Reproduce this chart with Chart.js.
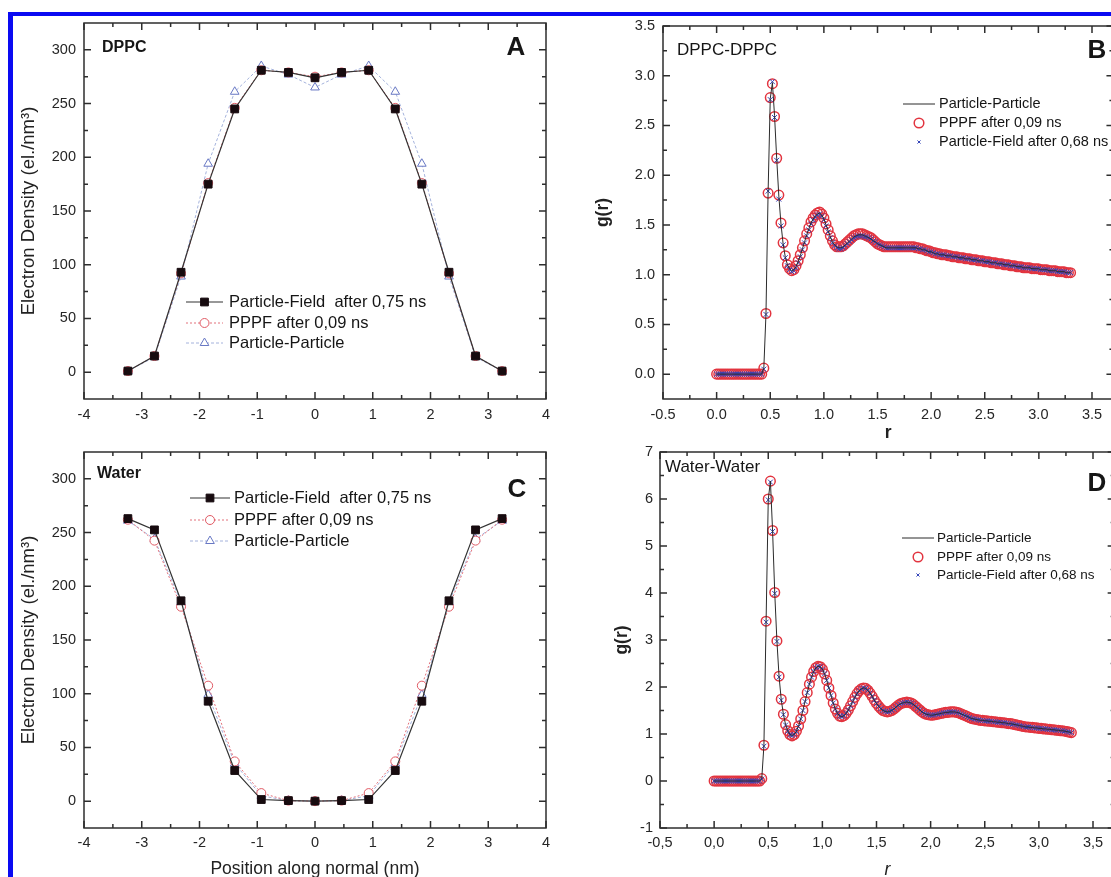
<!DOCTYPE html>
<html>
<head>
<meta charset="utf-8">
<title>Electron density profiles and radial distribution functions</title>
<script src="https://cdn.jsdelivr.net/npm/chart.js@4.4.1/dist/chart.umd.min.js"></script>
<style>
html,body{margin:0;padding:0;background:#fff;overflow:hidden;}
#wrap{position:relative;width:1111px;height:877px;overflow:hidden;background:#fff;}
canvas{position:absolute;}
.bar{position:absolute;background:#0a0af2;}
.lbl{position:absolute;font-family:"Liberation Sans",Arial,Helvetica,sans-serif;color:#161616;line-height:1;white-space:nowrap;}
.big{font-size:26px;font-weight:bold;transform:translateX(-50%);}
.tag{font-size:16px;font-weight:bold;}
.sub{font-size:17px;}
</style>
</head>
<body>
<div id="wrap">
  <div class="bar" style="left:8px;top:12px;width:1103px;height:4px"></div>
  <div class="bar" style="left:8px;top:12px;width:5px;height:865px"></div>
  <canvas id="cA" width="560" height="440" style="left:0;top:0"></canvas>
  <canvas id="cB" width="574" height="444" style="left:560px;top:0"></canvas>
  <canvas id="cC" width="560" height="460" style="left:0;top:420px"></canvas>
  <canvas id="cD" width="575" height="461" style="left:560px;top:420px"></canvas>
  <div class="lbl tag" style="left:102px;top:39px">DPPC</div>
  <div class="lbl big" style="left:516px;top:33px">A</div>
  <div class="lbl sub" style="left:677px;top:41px">DPPC-DPPC</div>
  <div class="lbl big" style="left:1097px;top:36px">B</div>
  <div class="lbl tag" style="left:97px;top:465px">Water</div>
  <div class="lbl big" style="left:517px;top:475px">C</div>
  <div class="lbl sub" style="left:665px;top:458px">Water-Water</div>
  <div class="lbl big" style="left:1097px;top:469px">D</div>
</div>
<script>
// ---------- data: electron density profiles (panels A and C) ----------
const posA = [-3.24,-2.78,-2.32,-1.85,-1.39,-0.93,-0.46,0,0.46,0.93,1.39,1.85,2.32,2.78,3.24];
const dppcPF   = [1,15,93,175,245,281,279,274,279,281,245,175,93,15,1];
const dppcPPPF = [1,15,92,176,246,281,279,275,279,281,246,176,92,15,1];
const dppcPP   = [1,14,89,194,261,285,277,265,277,285,261,194,89,14,1];
const waterPF   = [263,252.5,186.5,93,28.5,1.5,0.5,0,0.5,1.5,28.5,93,186.5,252.5,263];
const waterPPPF = [262,242.5,181,107.5,37,7.5,0.5,0,0.5,7.5,37,107.5,181,242.5,262];
const waterPP   = [261,244,185,99,35,5,0.5,0,0.5,5,35,99,185,244,261];

// ---------- data: radial distribution functions (panels B and D) ----------
const rVals = [
0.00,0.02,0.04,0.06,0.08,0.10,0.12,0.14,0.16,0.18,
0.20,0.22,0.24,0.26,0.28,0.30,0.32,0.34,0.36,0.38,
0.40,0.42,0.44,0.46,0.48,0.50,0.52,0.54,0.56,0.58,
0.60,0.62,0.64,0.66,0.68,0.70,0.72,0.74,0.76,0.78,
0.80,0.82,0.84,0.86,0.88,0.90,0.92,0.94,0.96,0.98,
1.00,1.02,1.04,1.06,1.08,1.10,1.12,1.14,1.16,1.18,
1.20,1.22,1.24,1.26,1.28,1.30,1.32,1.34,1.36,1.38,
1.40,1.42,1.44,1.46,1.48,1.50,1.52,1.54,1.56,1.58,
1.60,1.62,1.64,1.66,1.68,1.70,1.72,1.74,1.76,1.78,
1.80,1.82,1.84,1.86,1.88,1.90,1.92,1.94,1.96,1.98,
2.00,2.02,2.04,2.06,2.08,2.10,2.12,2.14,2.16,2.18,
2.20,2.22,2.24,2.26,2.28,2.30,2.32,2.34,2.36,2.38,
2.40,2.42,2.44,2.46,2.48,2.50,2.52,2.54,2.56,2.58,
2.60,2.62,2.64,2.66,2.68,2.70,2.72,2.74,2.76,2.78,
2.80,2.82,2.84,2.86,2.88,2.90,2.92,2.94,2.96,2.98,
3.00,3.02,3.04,3.06,3.08,3.10,3.12,3.14,3.16,3.18,
3.20,3.22,3.24,3.26,3.28,3.30];

const gDppcPP = [
0,0,0,0,0,0,0,0,0,0,
0,0,0,0,0,0,0,0,0,0,
0,0,0.06,0.60,1.83,2.77,2.93,2.60,2.17,1.79,
1.51,1.31,1.18,1.10,1.06,1.04,1.05,1.08,1.13,1.19,
1.26,1.33,1.40,1.46,1.52,1.56,1.59,1.61,1.62,1.60,
1.56,1.50,1.44,1.38,1.33,1.30,1.28,1.27,1.27,1.28,
1.30,1.32,1.34,1.36,1.38,1.39,1.40,1.40,1.40,1.39,
1.38,1.37,1.36,1.34,1.33,1.31,1.30,1.29,1.28,1.27,
1.27,1.27,1.27,1.27,1.27,1.27,1.27,1.27,1.27,1.27,
1.27,1.27,1.27,1.27,1.26,1.26,1.25,1.25,1.24,1.23,
1.23,1.22,1.21,1.21,1.20,1.20,1.20,1.19,1.19,1.19,
1.18,1.18,1.18,1.17,1.17,1.17,1.16,1.16,1.16,1.15,
1.15,1.15,1.14,1.14,1.14,1.13,1.13,1.13,1.12,1.12,
1.12,1.11,1.11,1.11,1.10,1.10,1.10,1.09,1.09,1.09,
1.08,1.08,1.08,1.07,1.07,1.07,1.07,1.06,1.06,1.06,
1.06,1.05,1.05,1.05,1.05,1.04,1.04,1.04,1.04,1.03,
1.03,1.03,1.03,1.02,1.02,1.02];

const gDppcPPPF = [
0,0,0,0,0,0,0,0,0,0,
0,0,0,0,0,0,0,0,0,0,
0,0,0.06,0.61,1.82,2.78,2.92,2.59,2.17,1.80,
1.52,1.32,1.19,1.10,1.06,1.04,1.05,1.09,1.14,1.20,
1.27,1.34,1.41,1.47,1.53,1.57,1.60,1.62,1.63,1.61,
1.57,1.51,1.45,1.39,1.34,1.30,1.28,1.28,1.28,1.29,
1.31,1.33,1.35,1.37,1.39,1.40,1.41,1.41,1.41,1.40,
1.39,1.38,1.37,1.35,1.33,1.31,1.30,1.29,1.28,1.28,
1.28,1.28,1.28,1.28,1.28,1.28,1.28,1.28,1.28,1.28,
1.28,1.28,1.28,1.27,1.27,1.26,1.26,1.25,1.24,1.24,
1.23,1.22,1.22,1.21,1.21,1.20,1.20,1.20,1.19,1.19,
1.18,1.18,1.18,1.17,1.17,1.17,1.16,1.16,1.16,1.15,
1.15,1.15,1.14,1.14,1.14,1.13,1.13,1.13,1.12,1.12,
1.12,1.11,1.11,1.11,1.10,1.10,1.10,1.09,1.09,1.09,
1.08,1.08,1.08,1.07,1.07,1.07,1.07,1.06,1.06,1.06,
1.06,1.05,1.05,1.05,1.05,1.04,1.04,1.04,1.04,1.03,
1.03,1.03,1.03,1.02,1.02,1.02];

const gDppcPF = [
0,0,0,0,0,0,0,0,0,0,
0,0,0,0,0,0,0,0,0,0,
0,0,0.05,0.60,1.84,2.76,2.94,2.58,2.15,1.76,
1.49,1.30,1.17,1.09,1.05,1.03,1.04,1.07,1.12,1.18,
1.25,1.32,1.39,1.45,1.51,1.55,1.58,1.60,1.61,1.59,
1.55,1.49,1.43,1.37,1.32,1.29,1.27,1.26,1.26,1.27,
1.29,1.31,1.33,1.35,1.37,1.38,1.39,1.39,1.39,1.38,
1.38,1.37,1.36,1.34,1.33,1.31,1.30,1.29,1.28,1.27,
1.27,1.27,1.27,1.27,1.27,1.27,1.27,1.27,1.27,1.27,
1.27,1.27,1.27,1.27,1.26,1.26,1.25,1.25,1.24,1.23,
1.23,1.22,1.21,1.21,1.20,1.20,1.20,1.19,1.19,1.19,
1.18,1.18,1.18,1.17,1.17,1.17,1.16,1.16,1.16,1.15,
1.15,1.15,1.14,1.14,1.14,1.13,1.13,1.13,1.12,1.12,
1.12,1.11,1.11,1.11,1.10,1.10,1.10,1.09,1.09,1.09,
1.08,1.08,1.08,1.07,1.07,1.07,1.07,1.06,1.06,1.06,
1.06,1.05,1.05,1.05,1.05,1.04,1.04,1.04,1.04,1.03,
1.03,1.03,1.03,1.02,1.02,1.02];

const gWatPP = [
0,0,0,0,0,0,0,0,0,0,
0,0,0,0,0,0,0,0,0,0,
0,0,0.05,0.75,3.39,5.99,6.38,5.32,4.00,2.98,
2.22,1.73,1.42,1.20,1.07,0.99,0.97,0.99,1.06,1.17,
1.32,1.50,1.69,1.88,2.06,2.21,2.33,2.41,2.44,2.43,
2.38,2.28,2.14,1.98,1.82,1.66,1.53,1.44,1.38,1.37,
1.39,1.44,1.51,1.60,1.69,1.78,1.86,1.92,1.96,1.98,
1.97,1.93,1.87,1.80,1.72,1.65,1.59,1.54,1.50,1.48,
1.47,1.48,1.50,1.53,1.57,1.61,1.64,1.66,1.67,1.68,
1.67,1.66,1.63,1.59,1.55,1.51,1.47,1.44,1.42,1.41,
1.40,1.40,1.41,1.42,1.43,1.44,1.45,1.46,1.46,1.47,
1.47,1.47,1.46,1.45,1.43,1.41,1.39,1.37,1.35,1.33,
1.32,1.31,1.30,1.29,1.29,1.28,1.28,1.27,1.27,1.26,
1.26,1.25,1.25,1.24,1.24,1.23,1.22,1.22,1.21,1.20,
1.19,1.18,1.17,1.16,1.15,1.15,1.14,1.14,1.13,1.13,
1.12,1.12,1.11,1.11,1.10,1.10,1.09,1.09,1.08,1.08,
1.07,1.07,1.06,1.05,1.04,1.03];

const gWatPPPF = [
0,0,0,0,0,0,0,0,0,0,
0,0,0,0,0,0,0,0,0,0,
0,0,0.05,0.76,3.40,6.00,6.38,5.33,4.01,2.98,
2.23,1.74,1.42,1.20,1.07,0.99,0.96,0.99,1.06,1.17,
1.32,1.50,1.69,1.88,2.06,2.21,2.33,2.41,2.44,2.43,
2.38,2.28,2.14,1.98,1.82,1.66,1.53,1.44,1.38,1.37,
1.39,1.44,1.51,1.60,1.69,1.78,1.86,1.92,1.96,1.98,
1.97,1.93,1.87,1.80,1.72,1.65,1.59,1.54,1.50,1.48,
1.47,1.48,1.50,1.53,1.57,1.61,1.64,1.66,1.67,1.68,
1.67,1.66,1.63,1.59,1.55,1.51,1.47,1.44,1.42,1.41,
1.40,1.40,1.41,1.42,1.43,1.44,1.45,1.46,1.46,1.47,
1.47,1.47,1.46,1.45,1.43,1.41,1.39,1.37,1.35,1.33,
1.32,1.31,1.30,1.29,1.29,1.28,1.28,1.27,1.27,1.26,
1.26,1.25,1.25,1.24,1.24,1.23,1.22,1.22,1.21,1.20,
1.19,1.18,1.17,1.16,1.15,1.15,1.14,1.14,1.13,1.13,
1.12,1.12,1.11,1.11,1.10,1.10,1.09,1.09,1.08,1.08,
1.07,1.07,1.06,1.05,1.04,1.03];

const gWatPF = [
0,0,0,0,0,0,0,0,0,0,
0,0,0,0,0,0,0,0,0,0,
0,0,0.04,0.74,3.38,5.98,6.36,5.31,3.99,2.97,
2.21,1.72,1.41,1.19,1.06,0.98,0.97,0.99,1.05,1.16,
1.32,1.50,1.69,1.88,2.06,2.21,2.33,2.41,2.44,2.43,
2.38,2.28,2.14,1.98,1.82,1.66,1.53,1.44,1.38,1.37,
1.39,1.44,1.51,1.60,1.69,1.78,1.86,1.92,1.96,1.98,
1.97,1.93,1.87,1.80,1.72,1.65,1.59,1.54,1.50,1.48,
1.47,1.48,1.50,1.53,1.57,1.61,1.64,1.66,1.67,1.68,
1.67,1.66,1.63,1.59,1.55,1.51,1.47,1.44,1.42,1.41,
1.40,1.40,1.41,1.42,1.43,1.44,1.45,1.46,1.46,1.47,
1.47,1.47,1.46,1.45,1.43,1.41,1.39,1.37,1.35,1.33,
1.32,1.31,1.30,1.29,1.29,1.28,1.28,1.27,1.27,1.26,
1.26,1.25,1.25,1.24,1.24,1.23,1.22,1.22,1.21,1.20,
1.19,1.18,1.17,1.16,1.15,1.15,1.14,1.14,1.13,1.13,
1.12,1.12,1.11,1.11,1.10,1.10,1.09,1.09,1.08,1.08,
1.07,1.07,1.06,1.05,1.04,1.03];

// ---------- tick values ----------
const edXTicks = [-4,-3,-2,-1,0,1,2,3,4];
const edYTicks = [0,50,100,150,200,250,300];
const edXMinor = [-3.5,-2.5,-1.5,-0.5,0.5,1.5,2.5,3.5];
const edYMinor = [25,75,125,175,225,275];
const gXTicks = [-0.5,0,0.5,1,1.5,2,2.5,3,3.5];
const gXMinor = [-0.25,0.25,0.75,1.25,1.75,2.25,2.75,3.25];
const gDppcYTicks = [0,0.5,1,1.5,2,2.5,3,3.5];
const gDppcYMinor = [0.25,0.75,1.25,1.75,2.25,2.75,3.25];
const gWatYTicks = [-1,0,1,2,3,4,5,6,7];
const gWatYMinor = [-0.5,0.5,1.5,2.5,3.5,4.5,5.5,6.5];

// ---------- helpers ----------
const FONT = '"Liberation Sans", Arial, Helvetica, sans-serif';
const TICKFONT = {family: FONT, size: 14.5};
const TICKCOL = '#262626';
function pts(xs, ys) { return xs.map((x, i) => ({x: x, y: ys[i]})); }

function drawMarker(ctx, style, x, y, r, fill, stroke, lw) {
  ctx.beginPath();
  if (style === 'rect') { const s = r * Math.SQRT1_2; ctx.rect(x - s, y - s, 2 * s, 2 * s); }
  else if (style === 'circle') { ctx.arc(x, y, r, 0, Math.PI * 2); }
  else if (style === 'triangle') { ctx.moveTo(x, y - r); ctx.lineTo(x + r * 0.866, y + r * 0.5); ctx.lineTo(x - r * 0.866, y + r * 0.5); ctx.closePath(); }
  else if (style === 'crossRot') { const s = r * Math.SQRT1_2; ctx.moveTo(x - s, y - s); ctx.lineTo(x + s, y + s); ctx.moveTo(x + s, y - s); ctx.lineTo(x - s, y + s); }
  if (style !== 'crossRot' && fill) { ctx.fillStyle = fill; ctx.fill(); }
  ctx.setLineDash([]);
  ctx.strokeStyle = stroke; ctx.lineWidth = lw; ctx.stroke();
}

function framePlugin(p) {
  return {
    id: 'frameTicks',
    afterDraw(chart) {
      const ctx = chart.ctx, a = chart.chartArea, sx = chart.scales.x, sy = chart.scales.y;
      ctx.save();
      ctx.strokeStyle = '#2e2e2e'; ctx.lineWidth = 1.5; ctx.setLineDash([]);
      ctx.beginPath();
      const vx = (vals, len) => vals.forEach(v => {
        const px = sx.getPixelForValue(v);
        if (px < a.left - 1 || px > a.right + 1) return;
        ctx.moveTo(px, a.bottom); ctx.lineTo(px, a.bottom - len);
        ctx.moveTo(px, a.top); ctx.lineTo(px, a.top + len);
      });
      const vy = (vals, len) => vals.forEach(v => {
        const py = sy.getPixelForValue(v);
        if (py < a.top - 1 || py > a.bottom + 1) return;
        ctx.moveTo(a.left, py); ctx.lineTo(a.left + len, py);
        ctx.moveTo(a.right, py); ctx.lineTo(a.right - len, py);
      });
      vx(p.xTicks, 7); vx(p.xMinor, 4); vy(p.yTicks, 7); vy(p.yMinor, 4);
      ctx.stroke();
      ctx.strokeRect(a.left, a.top, a.right - a.left, a.bottom - a.top);
      ctx.restore();
    }
  };
}

function legendPlugin(L) {
  return {
    id: 'inLegend',
    afterDraw(chart) {
      const ctx = chart.ctx, ds = chart.data.datasets;
      ctx.save();
      L.items.forEach((idx, k) => {
        const d = ds[idx], y = L.rows[k], xm = (L.x0 + L.x1) / 2;
        if (d.showLine) {
          ctx.beginPath();
          ctx.setLineDash(d.borderDash || []);
          ctx.strokeStyle = d.borderColor; ctx.lineWidth = d.borderWidth;
          ctx.moveTo(L.x0, y); ctx.lineTo(L.x1, y); ctx.stroke();
          ctx.setLineDash([]);
        }
        if (d.pointRadius > 0) {
          const r = (L.markerR && L.markerR[k]) ? L.markerR[k] : d.pointRadius;
          drawMarker(ctx, d.pointStyle, xm, y, r, d.pointBackgroundColor, d.pointBorderColor, d.pointBorderWidth);
        }
        ctx.font = L.font; ctx.fillStyle = '#151515';
        ctx.textBaseline = 'middle'; ctx.textAlign = 'left';
        ctx.fillText(d.label, L.tx, y);
      });
      ctx.restore();
    }
  };
}

function makePanel(id, p) {
  return new Chart(document.getElementById(id), {
    type: 'scatter',
    data: {datasets: p.datasets},
    options: {
      responsive: false, animation: false, devicePixelRatio: 1, events: [],
      layout: {padding: {left: 0, top: p.padTop, right: p.padRight, bottom: 0}},
      plugins: {legend: {display: false}, tooltip: {enabled: false}},
      scales: {
        x: {
          type: 'linear', position: 'bottom', min: p.xMin, max: p.xMax,
          grid: {display: false, drawTicks: false}, border: {display: false},
          ticks: {autoSkip: false, maxRotation: 0, padding: p.xPad, color: TICKCOL, font: TICKFONT, callback: p.xFmt},
          afterBuildTicks: s => { s.ticks = p.xTicks.map(v => ({value: v})); },
          afterFit: s => { s.height = p.xH; },
          title: p.xTitle || {display: false}
        },
        y: {
          type: 'linear', position: 'left', min: p.yMin, max: p.yMax,
          grid: {display: false, drawTicks: false}, border: {display: false},
          ticks: {autoSkip: false, padding: p.yPad, color: TICKCOL, font: TICKFONT, callback: p.yFmt},
          afterBuildTicks: s => { s.ticks = p.yTicks.map(v => ({value: v})); },
          afterFit: s => { s.width = p.yW; },
          title: p.yTitle
        }
      }
    },
    plugins: [framePlugin(p), legendPlugin(p.legend)]
  });
}

function edDatasets(pf, pppf, pp) {
  return [
    {label: 'Particle-Field  after 0,75 ns', data: pts(posA, pf), showLine: true, borderColor: '#333333', borderWidth: 1.2,
     pointStyle: 'rect', pointRadius: 5.5, pointBackgroundColor: '#170b0f', pointBorderColor: '#170b0f', pointBorderWidth: 1, order: 0},
    {label: 'PPPF after 0,09 ns', data: pts(posA, pppf), showLine: true, borderColor: '#e2707a', borderWidth: 1, borderDash: [2, 2],
     pointStyle: 'circle', pointRadius: 4.5, pointBackgroundColor: '#ffffff', pointBorderColor: '#e05a64', pointBorderWidth: 1, order: 1},
    {label: 'Particle-Particle', data: pts(posA, pp), showLine: true, borderColor: '#a4b2dc', borderWidth: 1, borderDash: [3, 2],
     pointStyle: 'triangle', pointRadius: 5, pointBackgroundColor: '#ffffff', pointBorderColor: '#6878c4', pointBorderWidth: 1, order: 2}
  ];
}
function gDatasets(pp, pppf, pf) {
  return [
    {label: 'Particle-Particle', data: pts(rVals, pp), showLine: true, borderColor: '#2b2b2b', borderWidth: 1, pointRadius: 0, order: 0},
    {label: 'PPPF after 0,09 ns', data: pts(rVals, pppf), showLine: false, pointStyle: 'circle', pointRadius: 4.8,
     pointBackgroundColor: 'rgba(0,0,0,0)', pointBorderColor: '#e2343f', pointBorderWidth: 1.5, order: 2},
    {label: 'Particle-Field after 0,68 ns', data: pts(rVals, pf), showLine: false, pointStyle: 'crossRot', pointRadius: 3.5,
     pointBackgroundColor: 'rgba(0,0,0,0)', pointBorderColor: '#3444b8', pointBorderWidth: 1, order: 1}
  ];
}

const yTitleED = {display: true, text: 'Electron Density (el./nm³)', color: '#222', font: {family: FONT, size: 18.5}, padding: {top: 18, bottom: 0}};
const intFmt = v => String(v);
const dotFmt = v => v.toFixed(1);
const commaFmt = v => v.toFixed(1).replace('.', ',');

// Panel A
makePanel('cA', {
  datasets: edDatasets(dppcPF, dppcPPPF, dppcPP),
  xMin: -4, xMax: 4, yMin: -25, yMax: 325,
  xTicks: edXTicks, xMinor: edXMinor, yTicks: edYTicks, yMinor: edYMinor,
  xFmt: intFmt, yFmt: intFmt, xPad: 7, yPad: 8,
  padTop: 23, padRight: 14, xH: 41, yW: 84,
  yTitle: yTitleED,
  legend: {items: [0, 1, 2], x0: 186, x1: 223, tx: 229, rows: [302, 323, 343], font: '16.5px ' + FONT}
});

// Panel B
makePanel('cB', {
  datasets: gDatasets(gDppcPP, gDppcPPPF, gDppcPF),
  xMin: -0.5, xMax: 3.7, yMin: -0.25, yMax: 3.5,
  xTicks: gXTicks, xMinor: gXMinor, yTicks: gDppcYTicks, yMinor: gDppcYMinor,
  xFmt: dotFmt, yFmt: dotFmt, xPad: 7, yPad: 8,
  padTop: 26, padRight: 20.55, xH: 45, yW: 103,
  xTitle: {display: true, text: 'r', color: '#222', font: {family: FONT, size: 17.5, weight: 'bold'}, padding: {top: 0, bottom: 0}},
  yTitle: {display: true, text: 'g(r)', color: '#222', font: {family: FONT, size: 17.5, weight: 'bold'}, padding: {top: 32.5, bottom: 0}},
  legend: {items: [0, 1, 2], x0: 343, x1: 375, tx: 379, rows: [104, 123, 142], font: '14.5px ' + FONT, markerR: [0, 4.8, 2.2]}
});

// Panel C
makePanel('cC', {
  datasets: edDatasets(waterPF, waterPPPF, waterPP),
  xMin: -4, xMax: 4, yMin: -25, yMax: 325,
  xTicks: edXTicks, xMinor: edXMinor, yTicks: edYTicks, yMinor: edYMinor,
  xFmt: intFmt, yFmt: intFmt, xPad: 6, yPad: 8,
  padTop: 32, padRight: 14, xH: 52, yW: 84,
  xTitle: {display: true, text: 'Position along normal (nm)', color: '#222', font: {family: FONT, size: 17.5}, padding: {top: 0, bottom: 0}},
  yTitle: yTitleED,
  legend: {items: [0, 1, 2], x0: 190, x1: 230, tx: 234, rows: [78, 100, 121], font: '16.5px ' + FONT}
});

// Panel D
makePanel('cD', {
  datasets: gDatasets(gWatPP, gWatPPPF, gWatPF),
  xMin: -0.5, xMax: 3.7, yMin: -1, yMax: 7,
  xTicks: gXTicks, xMinor: gXMinor, yTicks: gWatYTicks, yMinor: gWatYMinor,
  xFmt: commaFmt, yFmt: intFmt, xPad: 6, yPad: 7,
  padTop: 32, padRight: 20.35, xH: 53, yW: 100,
  xTitle: {display: true, text: 'r', color: '#222', font: {family: FONT, size: 17.5, style: 'italic'}, padding: {top: 0, bottom: 0}},
  yTitle: {display: true, text: 'g(r)', color: '#222', font: {family: FONT, size: 17.5, weight: 'bold'}, padding: {top: 51.5, bottom: 0}},
  legend: {items: [0, 1, 2], x0: 342, x1: 374, tx: 377, rows: [118, 137, 155], font: '13.5px ' + FONT, markerR: [0, 4.8, 2.2]}
});
</script>
</body>
</html>
